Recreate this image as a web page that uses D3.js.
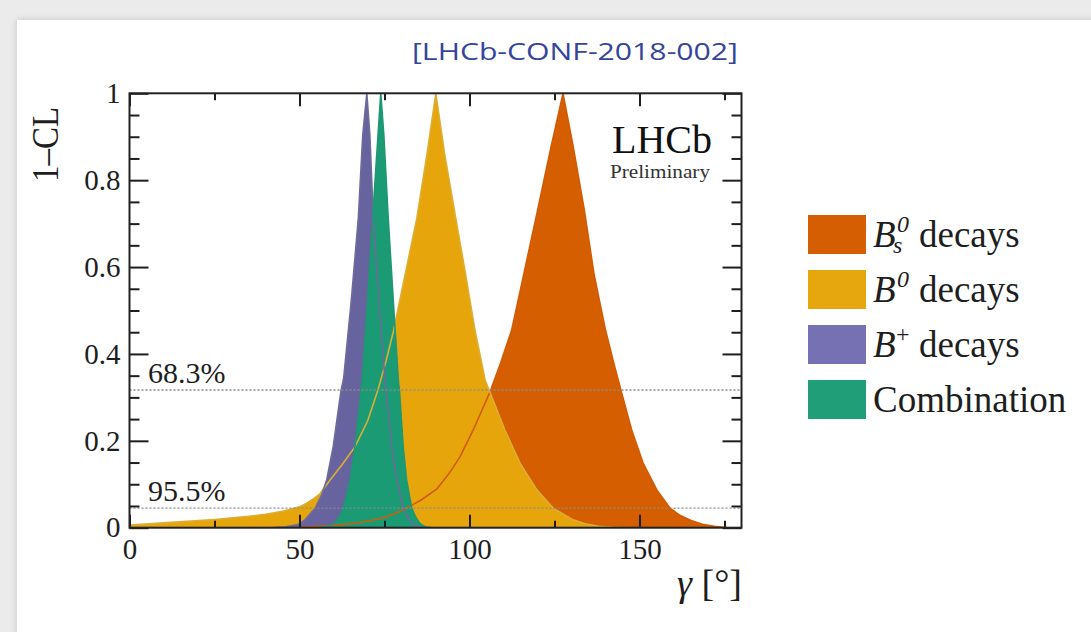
<!DOCTYPE html>
<html>
<head>
<meta charset="utf-8">
<script src="https://cdn.jsdelivr.net/npm/d3@7"></script>
<style>
  html, body { margin: 0; padding: 0; background: #ebebeb; }
  svg { display: block; }
</style>
</head>
<body>
<svg id="chart" width="1091" height="632"></svg>
<script>
// ---- Profile-likelihood scans of gamma (1-CL vs gamma in degrees) ----
const gammaBs = [40, 50, 60, 67, 74, 78, 81.5, 86, 90.5, 94, 97.2, 101.1, 106, 109.2, 112.4, 116, 120, 124, 127.5,
                 130.5, 133.8, 136.6, 140, 142.4, 144.6, 147.7, 151.1, 155.1, 159, 162, 165, 168.5, 172, 176, 180];
const clBs    = [0, 0.001, 0.005, 0.011, 0.021, 0.032, 0.045, 0.065, 0.09, 0.125, 0.163, 0.225, 0.312, 0.38, 0.455, 0.585, 0.73, 0.877, 1,
                 0.877, 0.73, 0.585, 0.455, 0.38, 0.315, 0.225, 0.148, 0.087, 0.045, 0.028, 0.017, 0.008, 0.003, 0, 0];

const gammaB0 = [0, 10, 25, 35, 40, 45, 50, 52, 54, 56, 59, 62.5, 66.3, 70, 73, 75.5, 77.6, 81, 84.5, 87.5, 90.1,
                 92.7, 95.7, 98.7, 101.6, 104.6, 110.4, 114.9, 119.8, 124.6, 130.5, 134, 138, 142, 146, 180];
const clB0    = [0.006, 0.011, 0.019, 0.026, 0.031, 0.038, 0.048, 0.056, 0.066, 0.078, 0.110, 0.145, 0.186, 0.245, 0.315, 0.385, 0.451, 0.58, 0.712, 0.86, 1,
                 0.86, 0.724, 0.59, 0.455, 0.34, 0.225, 0.148, 0.087, 0.045, 0.018, 0.009, 0.003, 0.001, 0, 0];

const gammaBp = [42, 46, 49.6, 51.6, 54.6, 56.5, 58, 59.9, 62.2, 63, 65.2, 67.3, 68.6, 69.8,
                 70.7, 71.7, 73.4, 75.1, 75.5, 77.1, 78.6, 80.5, 81.8, 83, 84.5, 86, 88];
const clBp    = [0, 0.002, 0.007, 0.018, 0.045, 0.075, 0.11, 0.186, 0.315, 0.345, 0.52, 0.712, 0.904, 1,
                 0.904, 0.712, 0.52, 0.345, 0.315, 0.186, 0.11, 0.045, 0.024, 0.01, 0.003, 0.001, 0];

const gammaComb = [55, 58, 60.4, 61.6, 62.9, 64.9, 66.3, 68.1, 68.4, 70, 71.5, 73.1, 73.9,
                   74.8, 76.1, 77.6, 79.1, 79.4, 80.5, 81.5, 83, 84.2, 85.4, 87, 89];
const clComb    = [0, 0.002, 0.01, 0.024, 0.045, 0.11, 0.186, 0.315, 0.336, 0.52, 0.712, 0.904, 1,
                   0.904, 0.712, 0.52, 0.336, 0.315, 0.186, 0.11, 0.045, 0.024, 0.01, 0.002, 0];

const seriesNames   = ["Bs", "B0", "Bplus", "Combination"];
const fillColors    = ["#d55e00", "#e5a50b", "#67639e", "#1b9b74"];
const lineColors    = ["#d25c05", "#dcae35", "#6d6b9c", "#1d9873"];
const legendColors  = ["#d65e02", "#e6a60d", "#7571b3", "#1f9e78"];

// confidence-level reference lines
const clLevels      = [0.317, 0.045];
const clLevelLabels = ["68.3%", "95.5%"];

// axis ticks
const xMajorTicks  = [0, 50, 100, 150];
const xTickLabels  = ["0", "50", "100", "150"];
const xMinorTicks  = [25, 75, 125, 175];
const yMajorTicks  = [0, 0.2, 0.4, 0.6, 0.8, 1];
const yTickLabels  = ["0", "0.2", "0.4", "0.6", "0.8", "1"];

const SERIF = "'Liberation Serif', 'Times New Roman', serif";
const INK = "#1e1e1e";

const svg = d3.select("#chart");

// ---- slide card ----
const defs = svg.append("defs");
const sh = defs.append("filter").attr("id", "cardShadow").attr("x", "-5%").attr("y", "-5%").attr("width", "110%").attr("height", "110%");
sh.append("feDropShadow").attr("dx", 0).attr("dy", 0).attr("stdDeviation", 3).attr("flood-color", "#c4c4c4");
svg.append("rect").attr("x", 0).attr("y", 0).attr("width", 1091).attr("height", 632).attr("fill", "#ebebeb");
svg.append("rect").attr("x", 17).attr("y", 20).attr("width", 1100).attr("height", 640)
  .attr("fill", "#ffffff").attr("filter", "url(#cardShadow)");

// ---- scales ----
const x = d3.scaleLinear().domain([0, 180]).range([129.5, 741.5]);
const y = d3.scaleLinear().domain([0, 1]).range([527.7, 93.3]);

defs.append("clipPath").attr("id", "plotClip").append("rect")
  .attr("x", x(0)).attr("y", y(1) - 1).attr("width", x(180) - x(0)).attr("height", y(0) - y(1) + 1);

const series = seriesNames.map((name, i) => {
  const g = [gammaBs, gammaB0, gammaBp, gammaComb][i];
  const c = [clBs, clB0, clBp, clComb][i];
  return { name, pts: g.map((v, k) => [v, c[k]]), fill: fillColors[i], stroke: lineColors[i] };
});

const area = d3.area().x(d => x(d[0])).y0(y(0)).y1(d => y(d[1])).curve(d3.curveLinear);
const line = d3.line().x(d => x(d[0])).y(d => y(d[1])).curve(d3.curveLinear);

const plot = svg.append("g").attr("clip-path", "url(#plotClip)");

// filled scans, then their outlines on top
plot.selectAll("path.fill").data(series).join("path")
  .attr("class", "fill").attr("d", d => area(d.pts)).attr("fill", d => d.fill);
plot.selectAll("path.outline").data(series).join("path")
  .attr("class", "outline").attr("d", d => line(d.pts))
  .attr("fill", "none").attr("stroke", d => d.stroke).attr("stroke-width", 1.6);

// dotted CL reference lines
plot.selectAll("line.cl").data(clLevels).join("line")
  .attr("class", "cl")
  .attr("x1", x(0)).attr("x2", x(180)).attr("y1", d => y(d)).attr("y2", d => y(d))
  .attr("stroke", "#8c8c8c").attr("stroke-width", 1.4).attr("stroke-dasharray", "2,2");

svg.selectAll("text.cl").data(clLevels).join("text")
  .attr("class", "cl")
  .attr("x", 148).attr("y", d => y(d) - 7)
  .attr("font-family", SERIF).attr("font-size", 30).attr("fill", INK)
  .text((d, i) => clLevelLabels[i]);

// ---- axes (ROOT-style: ticks pointing inward on all four sides) ----
function styleAxis(g) {
  g.select(".domain").remove();
  g.attr("font-family", SERIF).attr("font-size", 29).attr("color", INK);
  g.selectAll(".tick line").attr("stroke-width", 2);
}
const yMinorTicks = d3.range(0, 1.0001, 0.05).filter(v => !yMajorTicks.some(m => Math.abs(m - v) < 1e-6));

svg.append("g").attr("transform", `translate(${x(0)},0)`)
  .call(d3.axisLeft(y).tickValues(yMajorTicks).tickFormat((d, i) => yTickLabels[i]).tickSize(-19).tickSizeOuter(0).tickPadding(9))
  .call(styleAxis);
svg.append("g").attr("transform", `translate(${x(0)},0)`)
  .call(d3.axisLeft(y).tickValues(yMinorTicks).tickFormat("").tickSize(-10).tickSizeOuter(0))
  .call(styleAxis);
svg.append("g").attr("transform", `translate(${x(180)},0)`)
  .call(d3.axisRight(y).tickValues(yMajorTicks).tickFormat("").tickSize(-19).tickSizeOuter(0))
  .call(styleAxis);
svg.append("g").attr("transform", `translate(${x(180)},0)`)
  .call(d3.axisRight(y).tickValues(yMinorTicks).tickFormat("").tickSize(-10).tickSizeOuter(0))
  .call(styleAxis);

svg.append("g").attr("transform", `translate(0,${y(0)})`)
  .call(d3.axisBottom(x).tickValues(xMajorTicks).tickFormat((d, i) => xTickLabels[i]).tickSize(-13).tickSizeOuter(0).tickPadding(11))
  .call(styleAxis);
svg.append("g").attr("transform", `translate(0,${y(0)})`)
  .call(d3.axisBottom(x).tickValues(xMinorTicks).tickFormat("").tickSize(-7).tickSizeOuter(0))
  .call(styleAxis);
svg.append("g").attr("transform", `translate(0,${y(1)})`)
  .call(d3.axisTop(x).tickValues(xMajorTicks).tickFormat("").tickSize(-13).tickSizeOuter(0))
  .call(styleAxis);
svg.append("g").attr("transform", `translate(0,${y(1)})`)
  .call(d3.axisTop(x).tickValues(xMinorTicks).tickFormat("").tickSize(-7).tickSizeOuter(0))
  .call(styleAxis);

// frame
svg.append("rect")
  .attr("x", x(0)).attr("y", y(1)).attr("width", x(180) - x(0)).attr("height", y(0) - y(1))
  .attr("fill", "none").attr("stroke", "#222").attr("stroke-width", 2);

// axis titles
svg.append("text")
  .attr("transform", "translate(58,107) rotate(-90)")
  .attr("text-anchor", "end")
  .attr("font-family", SERIF).attr("font-size", 38).attr("fill", INK)
  .attr("textLength", 75).attr("lengthAdjust", "spacingAndGlyphs")
  .text("1\u2013CL");

const xt = svg.append("text")
  .attr("x", 742).attr("y", 596).attr("text-anchor", "end")
  .attr("font-family", SERIF).attr("font-size", 38).attr("fill", INK);
xt.append("tspan").attr("font-style", "italic").text("\u03b3");
xt.append("tspan").text("\u00a0[\u00b0]");

// experiment label
svg.append("text")
  .attr("x", 712).attr("y", 153).attr("text-anchor", "end")
  .attr("font-family", SERIF).attr("font-size", 40).attr("fill", "#111")
  .text("LHCb");
svg.append("text")
  .attr("x", 710).attr("y", 178).attr("text-anchor", "end")
  .attr("font-family", SERIF).attr("font-size", 19).attr("fill", "#333")
  .attr("textLength", 100).attr("lengthAdjust", "spacingAndGlyphs")
  .text("Preliminary");

// reference tag
svg.append("text")
  .attr("x", 738).attr("y", 60).attr("text-anchor", "end")
  .attr("font-family", "'Open Sans', 'Liberation Sans', sans-serif").attr("font-size", 24)
  .attr("fill", "#34459a")
  .attr("textLength", 326).attr("lengthAdjust", "spacingAndGlyphs")
  .text("[LHCb-CONF-2018-002]");

// ---- legend ----
const legendTop = 215, legendStep = 55, boxW = 58, boxH = 39, boxX = 808, textX = 873;
const legend = svg.append("g");
series.forEach((s, i) => {
  const by = legendTop + i * legendStep;
  legend.append("rect").attr("x", boxX).attr("y", by).attr("width", boxW).attr("height", boxH)
    .attr("fill", legendColors[i]);
  const base = by + boxH / 2 + 12;
  const t = legend.append("text").attr("y", base)
    .attr("font-family", SERIF).attr("font-size", 37).attr("fill", INK);
  if (i === 3) {
    t.append("tspan").attr("x", textX).text("Combination");
  } else {
    t.append("tspan").attr("x", textX).attr("font-style", "italic").text("B");
    if (i === 0) {
      t.append("tspan").attr("x", 897).attr("y", base - 15).attr("font-size", 24).attr("font-style", "italic").text("0");
      t.append("tspan").attr("x", 893).attr("y", base + 6).attr("font-size", 24).attr("font-style", "italic").text("s");
    } else if (i === 1) {
      t.append("tspan").attr("x", 897).attr("y", base - 15).attr("font-size", 24).attr("font-style", "italic").text("0");
    } else {
      t.append("tspan").attr("x", 896).attr("y", base - 15).attr("font-size", 24).text("+");
    }
    t.append("tspan").attr("x", 919).attr("y", base).text("decays");
  }
});
</script>
</body>
</html>
